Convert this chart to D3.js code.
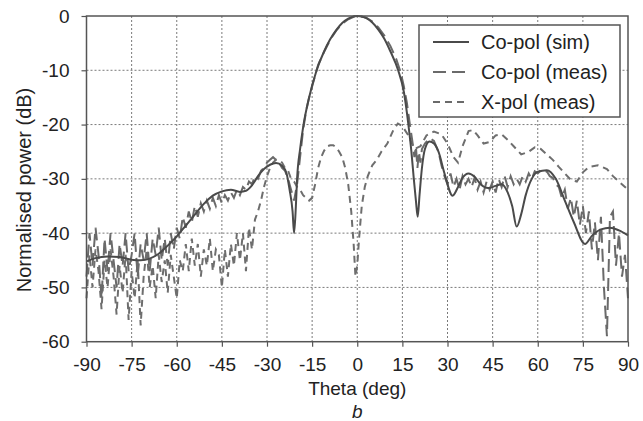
<!DOCTYPE html>
<html>
<head>
<meta charset="utf-8">
<script src="https://cdn.jsdelivr.net/npm/d3@7"></script>
<style>
  body { margin: 0; background: #fff; }
  svg { font-family: 'Liberation Sans', Arial, sans-serif; }
  .grid line { stroke: #7a7a7a; stroke-dasharray: 2,2; stroke-width: 1; }
  .axis path { display: none; }
  .axis line { stroke: #555; stroke-width: 1.2; }
  .axis text { fill: #222; font-size: 19px; }
</style>
</head>
<body>
<div id="chart"></div>
<script>
// tick values
const xTicks = [-90, -75, -60, -45, -30, -15, 0, 15, 30, 45, 60, 75, 90];
const yTicks = [0, -10, -20, -30, -40, -50, -60];

// Co-pol (sim)
const simTheta = [-90, -87, -83, -79, -75, -72, -69, -66, -63, -60, -57, -54, -51, -48, -45, -42, -39, -37, -35, -33, -31, -29, -27, -25, -23.5, -22.5, -21.5, -21, -20.4, -20, -19, -18, -16, -13.5, -11, -9, -7, -5, -3, -1, 0, 1, 3, 5, 7, 9, 11, 13.6, 15.5, 17, 18, 18.8, 19.5, 20.1, 20.7, 21.5, 22.5, 24, 25.5, 27, 29, 31.7, 33.5, 35, 37, 39, 41, 43.5, 46, 48, 50, 51.5, 53, 54.5, 56, 58, 60, 63, 66, 69, 72, 75.7, 78, 81, 84, 87, 90];
const simDb = [-45.2, -44.6, -44.3, -44.4, -44.9, -45, -44.7, -43.8, -42.3, -40.6, -38.6, -36.6, -34.6, -33.1, -32.3, -32, -32.4, -32.2, -31.2, -29.5, -28.2, -27.4, -27.1, -27.6, -29, -32, -36, -40, -35, -30, -24.5, -20.5, -15, -10, -6.5, -4.3, -2.6, -1.3, -0.5, -0.05, 0, -0.05, -0.4, -1.2, -2.5, -4.2, -6.5, -10, -14, -20, -25, -30, -34, -37, -33, -28, -24.5, -23.1, -23.5, -25, -29, -33.1, -31.5, -29.8, -29, -29.6, -31, -31.7, -31.3, -31, -32.5, -35, -38.8, -36.5, -33, -30, -28.7, -28.4, -30, -34, -38, -42, -40.5, -39.3, -39, -39.5, -40.4];

// Co-pol (meas)
const coMeasTheta = [-90, -89, -88, -87, -86, -85, -84, -83, -82, -81, -80, -79, -78, -77, -76, -75, -74, -73, -72, -71, -70, -69, -68, -67, -66, -65, -64, -63, -62, -61, -60, -59, -58, -57, -56, -55, -54, -53, -52, -51, -50, -49, -48, -47, -46, -45, -44, -43, -42, -41, -40, -39, -38, -37, -36, -35, -34, -33, -32, -31, -30, -29, -28, -27, -26, -25, -24, -23, -22, -21, -20, -19, -18, -17, -16, -15, -14, -13, -11, -9, -7, -5, -3, -1, 0, 1, 3, 5, 7, 9, 11, 13, 14.5, 15.5, 16.5, 17.5, 18.3, 19, 19.5, 20, 20.5, 21, 21.5, 22.5, 24, 25.5, 27, 28, 29, 30, 31, 32, 33, 34, 35, 36, 37, 38, 39, 40, 41, 42, 43, 44, 45, 46, 47, 48, 49, 50, 51, 52, 53, 54, 55, 56, 57, 58, 59, 60, 61, 62, 63, 64, 65, 66, 67, 68, 69, 70, 71, 72, 73, 74, 75, 76, 77, 78, 79, 80, 81, 82, 83, 84, 85, 86, 87, 88, 89, 90];
const coMeasDb = [-48, -40, -46, -39, -44, -52, -41, -47, -40, -45, -50, -42, -46, -40, -47, -44, -40, -48, -42, -45, -40, -47, -41, -44, -39, -45, -41, -46, -40, -43, -39, -41, -37, -39, -36, -38, -35, -37, -34.5, -36, -34, -35.5, -33.5, -35, -33, -34.5, -33, -34, -32.5, -33.5, -32, -33, -31.5, -32, -30.5, -31, -29.5, -30, -28.5, -28, -27, -26.5, -26, -26.5, -27, -28, -28.5, -30, -32, -34, -31, -26, -21, -17.5, -15, -13, -11, -9, -6.6, -4.4, -2.7, -1.4, -0.6, -0.1, 0, -0.05, -0.3, -1, -2.1, -3.6, -5.5, -8, -10.5, -13, -16, -20, -23, -26, -24, -28, -25, -27, -24.5, -23.5, -22.5, -23, -25, -27.5, -29.5, -31, -29, -31.5, -30, -32, -29.5, -31, -30, -31.5, -29.8, -32, -30.5, -32.5, -30.5, -32, -30.5, -32.5, -30, -31.5, -29.5, -31.5, -29.5, -31, -30, -31, -29.5, -30.5, -29, -30, -28.6, -29, -28.4, -28.8, -28.6, -29.5, -29.8, -31, -31.5, -33.5, -32, -35.5, -33.5, -37, -34, -38.5, -35, -40, -36, -43, -38, -45, -37, -50, -59, -37, -36, -46, -40, -48, -44, -52];

// X-pol (meas)
const xMeasTheta = [-90, -89, -88, -87, -86, -85, -84, -83, -82, -81, -80, -79, -78, -77, -76, -75, -74, -73, -72, -71, -70, -69, -68, -67, -66, -65, -64, -63, -62, -61, -60, -59, -58, -57, -56, -55, -54, -53, -52, -51, -50, -49, -48, -47, -46, -45, -44, -43, -42, -41, -40, -39, -38, -37, -36, -35, -34, -33, -32, -31, -30, -29, -28, -27, -26, -25, -24, -23, -22, -21, -20, -19, -18, -17, -16, -15, -14, -13, -12, -11, -10, -9, -8, -7, -6, -5, -4, -3, -2, -1.2, -0.6, 0, 0.6, 1.5, 2.5, 3.5, 5, 6.5, 8, 10, 12, 13.5, 15, 17, 19, 21, 23, 25.5, 28, 30, 32, 33.5, 35, 37, 38.5, 40, 42, 44, 46, 48, 50, 52, 54.5, 57, 59, 61, 63, 65, 67, 69, 71, 73, 75, 77, 80, 83, 85, 87, 89, 90];
const xMeasDb = [-52, -44, -50, -43, -47, -54, -45, -50, -43, -48, -55, -46, -51, -44, -56, -47, -52, -45, -57, -48, -43, -50, -46, -52, -44, -49, -45, -51, -44, -48, -52, -45, -47, -42, -47, -41, -46, -42, -48, -43, -46, -41, -47, -43, -44, -50, -43, -48, -42, -46, -40, -45, -40, -47, -39, -43, -37.5, -36, -34, -31.5, -29.5, -28, -27, -26.5, -26.5, -27, -28, -28.5, -30, -30.5, -31.5, -32, -33, -33.5, -34, -33.5, -31, -28, -26, -24.8, -24, -23.8, -23.8, -24.2, -25, -26, -28, -31, -36, -42, -48, -46, -41, -35, -31.5, -29.5, -27.5, -26.5, -25, -23.5, -21, -19.8, -20.3, -22, -24.5, -24, -22, -21.3, -21.8, -23.5, -26, -27, -24, -21.2, -21, -22, -23.5, -23.2, -22, -21.8, -22.8, -24, -25.5, -25, -24.2, -24.5, -25.5, -26.5, -27.8, -29, -30.2, -30.5, -28.8, -27.8, -27.5, -28.2, -29.5, -30.5, -31.5, -32];

const legendLabels = ['Co-pol (sim)', 'Co-pol (meas)', 'X-pol (meas)'];

class PatternChart {
  constructor(_config) {
    this.config = {
      parentElement: _config.parentElement,
      containerWidth: 643,
      containerHeight: 421,
      margin: { top: 16, left: 86.5, right: 15, bottom: 79.3 },
    };
    this.initVis();
  }

  initVis() {
    let vis = this;

    vis.width = vis.config.containerWidth - vis.config.margin.left - vis.config.margin.right;
    vis.height = vis.config.containerHeight - vis.config.margin.top - vis.config.margin.bottom;

    vis.svg = d3.select(vis.config.parentElement)
      .append('svg')
      .attr('width', vis.config.containerWidth)
      .attr('height', vis.config.containerHeight);

    vis.chart = vis.svg.append('g')
      .attr('transform', `translate(${vis.config.margin.left},${vis.config.margin.top})`);

    vis.xScale = d3.scaleLinear().domain([-90, 90]).range([0, vis.width]);
    vis.yScale = d3.scaleLinear().domain([-60, 0]).range([vis.height, 0]);

    // dotted grid
    vis.chart.append('g')
      .attr('class', 'grid')
      .selectAll('line')
      .data(xTicks.slice(1, -1))
      .join('line')
      .attr('x1', d => vis.xScale(d))
      .attr('x2', d => vis.xScale(d))
      .attr('y1', 0)
      .attr('y2', vis.height);
    vis.chart.append('g')
      .attr('class', 'grid')
      .selectAll('line')
      .data(yTicks.slice(1, -1))
      .join('line')
      .attr('x1', 0)
      .attr('x2', vis.width)
      .attr('y1', d => vis.yScale(d))
      .attr('y2', d => vis.yScale(d));

    vis.xAxis = d3.axisBottom(vis.xScale)
      .tickValues(xTicks)
      .tickSize(5)
      .tickPadding(11)
      .tickFormat(d => String(d));
    vis.yAxis = d3.axisLeft(vis.yScale)
      .tickValues(yTicks)
      .tickSize(5)
      .tickPadding(12)
      .tickFormat(d => String(d));

    vis.xAxisG = vis.chart.append('g')
      .attr('class', 'axis x-axis')
      .attr('transform', `translate(0,${vis.height})`);
    vis.yAxisG = vis.chart.append('g')
      .attr('class', 'axis y-axis');

    vis.svg.append('text')
      .attr('x', vis.config.margin.left + vis.width / 2)
      .attr('y', 395)
      .attr('text-anchor', 'middle')
      .attr('font-size', 19)
      .attr('fill', '#222')
      .text('Theta (deg)');

    vis.svg.append('text')
      .attr('x', vis.config.margin.left + vis.width / 2)
      .attr('y', 418)
      .attr('text-anchor', 'middle')
      .attr('font-size', 19)
      .attr('font-style', 'italic')
      .attr('fill', '#222')
      .text('b');

    vis.svg.append('text')
      .attr('transform', 'translate(31,190) rotate(-90)')
      .attr('text-anchor', 'middle')
      .attr('font-size', 20)
      .attr('fill', '#222')
      .text('Normalised power (dB)');

    vis.renderVis();
  }

  renderVis() {
    let vis = this;

    const lineSmooth = d3.line()
      .x(d => vis.xScale(d[0]))
      .y(d => vis.yScale(d[1]))
      .curve(d3.curveMonotoneX);
    const lineRaw = d3.line()
      .x(d => vis.xScale(d[0]))
      .y(d => vis.yScale(d[1]));

    const xMeas = d3.zip(xMeasTheta, xMeasDb);
    const coMeas = d3.zip(coMeasTheta, coMeasDb);
    const sim = d3.zip(simTheta, simDb);

    vis.chart.append('path')
      .datum(xMeas)
      .attr('d', lineRaw)
      .attr('fill', 'none')
      .attr('stroke', '#6e6e6e')
      .attr('stroke-width', 2)
      .attr('stroke-dasharray', '7,5');

    vis.chart.append('path')
      .datum(coMeas)
      .attr('d', lineRaw)
      .attr('fill', 'none')
      .attr('stroke', '#6a6a6a')
      .attr('stroke-width', 2)
      .attr('stroke-dasharray', '13,6');

    vis.chart.append('path')
      .datum(sim)
      .attr('d', lineSmooth)
      .attr('fill', 'none')
      .attr('stroke', '#4a4a4a')
      .attr('stroke-width', 2);

    vis.xAxisG.call(vis.xAxis);
    vis.yAxisG.call(vis.yAxis);

    // frame
    vis.chart.append('rect')
      .attr('width', vis.width)
      .attr('height', vis.height)
      .attr('fill', 'none')
      .attr('stroke', '#555')
      .attr('stroke-width', 1.5);

    // legend
    const dashes = [null, '13,6', '7,5'];
    const legend = vis.svg.append('g').attr('transform', 'translate(419,25)');
    legend.append('rect')
      .attr('width', 201)
      .attr('height', 92)
      .attr('fill', '#fff')
      .attr('stroke', '#555')
      .attr('stroke-width', 1.5);
    const rows = legend.selectAll('g.row')
      .data(legendLabels)
      .join('g')
      .attr('class', 'row')
      .attr('transform', (d, i) => `translate(0,${17 + i * 30})`);
    rows.append('line')
      .attr('x1', 14)
      .attr('x2', 50)
      .attr('stroke', (d, i) => i === 0 ? '#4a4a4a' : '#6a6a6a')
      .attr('stroke-width', 2)
      .attr('stroke-dasharray', (d, i) => dashes[i]);
    rows.append('text')
      .attr('x', 62)
      .attr('dy', '0.35em')
      .attr('font-size', 20)
      .attr('fill', '#222')
      .text(d => d);
  }
}

new PatternChart({ parentElement: '#chart' });
</script>
</body>
</html>
